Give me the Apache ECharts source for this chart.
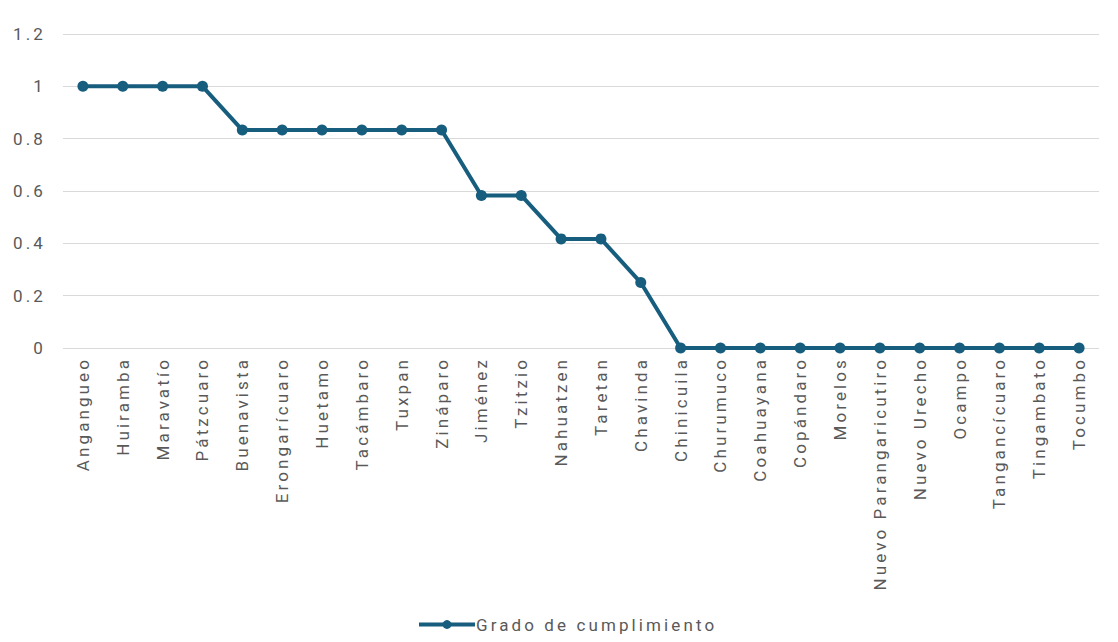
<!DOCTYPE html>
<html>
<head>
<meta charset="utf-8">
<script src="https://cdn.jsdelivr.net/npm/echarts@6/dist/echarts.min.js"></script>
<style>
html,body{margin:0;padding:0;background:#fff;}
#c{width:1118px;height:642px;}
#c text{letter-spacing:3.1px;}
</style>
</head>
<body>
<div id="c"></div>
<script>
const categories = ["Angangueo","Huiramba","Maravatío","Pátzcuaro","Buenavista","Erongarícuaro","Huetamo","Tacámbaro","Tuxpan","Zináparo","Jiménez","Tzitzio","Nahuatzen","Taretan","Chavinda","Chinicuila","Churumuco","Coahuayana","Copándaro","Morelos","Nuevo Parangaricutiro","Nuevo Urecho","Ocampo","Tangancícuaro","Tingambato","Tocumbo"];
const values = [1,1,1,1,0.833,0.833,0.833,0.833,0.833,0.833,0.583,0.583,0.417,0.417,0.25,0,0,0,0,0,0,0,0,0,0,0];
const seriesName = "Grado de cumplimiento";
const yTicks = {min:0, max:1.2, interval:0.2};

const FONT = 'Roboto, "Open Sans", sans-serif';
const chart = echarts.init(document.getElementById('c'), null, {renderer:'svg'});
chart.setOption({
  animation:false,
  grid:{left:63, right:19, top:34, bottom:294, containLabel:false},
  xAxis:{
    type:'category', data:categories, boundaryGap:true,
    axisLine:{show:false}, axisTick:{show:false},
    axisLabel:{rotate:90, color:'#595959', fontSize:17, fontFamily:FONT, margin:9, interval:0}
  },
  yAxis:{
    type:'value', min:yTicks.min, max:yTicks.max, interval:yTicks.interval,
    axisLine:{show:false}, axisTick:{show:false},
    splitLine:{lineStyle:{color:'#d9d9d9', width:1}},
    axisLabel:{color:'#595959', fontSize:17, fontFamily:FONT, margin:17,
      formatter:function(v){return String(Math.round(v*10)/10);}}
  },
  legend:{
    bottom:4, left:412, itemWidth:56, itemHeight:11, itemGap:4,
    lineStyle:{width:4},
    textStyle:{color:'#595959', fontSize:17, fontFamily:FONT, padding:[0,0,0,-4]},
    data:[{name:seriesName}]
  },
  series:[{
    name:seriesName, type:'line', data:values,
    symbol:'circle', symbolSize:11,
    lineStyle:{color:'#175d7e', width:4},
    itemStyle:{color:'#175d7e'}
  }]
});
</script>
</body>
</html>
